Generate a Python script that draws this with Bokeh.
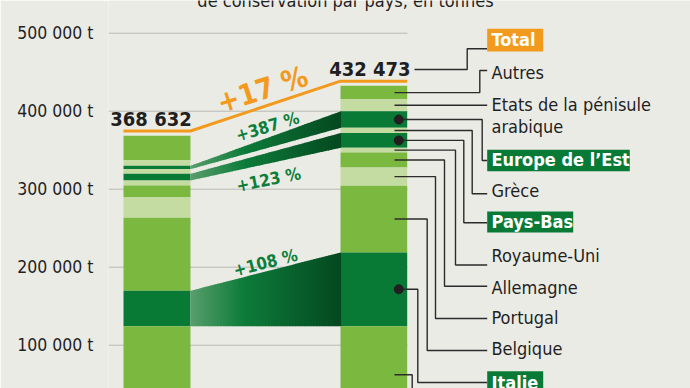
import numpy as np
from bokeh.plotting import figure
from bokeh.models import Range1d, FixedTicker
from bokeh.core.properties import value
from bokeh.embed import file_html
from bokeh.resources import INLINE

# ---------------- data ----------------
categories = ["Autres", "Etats de la pénisule arabique", "Europe de l\u2019Est", "Grèce",
              "Pays-Bas", "Royaume-Uni", "Allemagne", "Portugal", "Belgique", "Italie", "Autres pays"]
tonnes_left = [31182, 7300, 4350, 6000, 8500, 6400, 15000, 26400, 93600, 45500, 124400]
tonnes_right = [17223, 15400, 21150, 6700, 18900, 6000, 19200, 23500, 85400, 94600, 124400]
totals = [368632, 432473]
total_labels = ["368 632", "432 473"]
growth_total = "+17 %"
growth_labels = ["+387 %", "+123 %", "+108 %"]
flow_index = [2, 4, 9]
tick_values = [100000, 200000, 300000, 400000, 500000]
tick_labels = ["100 000 t", "200 000 t", "300 000 t", "400 000 t", "500 000 t"]
title_text = "de conservation par pays, en tonnes"

# ---------------- style / layout ----------------
W, H = 690, 388
FRAME_LEFT = 108
Y_TOP, Y_BOT = 541923, 44487
T_PER_PX = (Y_TOP - Y_BOT) / H
BG = "#ebebe6"
MID, LIGHT, DARK = "#7ab83f", "#c4dca2", "#087a36"
ORANGE = "#f29a1e"
GREEN_TXT = "#0b7f3a"
INK = "#1f1f1f"
FONT_NAME = "'DejaVu Sans Condensed', 'Roboto Condensed', Roboto, sans-serif"
FONT = value(FONT_NAME)
seg_colors = [MID, LIGHT, DARK, LIGHT, DARK, LIGHT, MID, LIGHT, MID, DARK, MID]


def ty(px_y):
    """pixel row -> tonnes on the y scale"""
    return Y_TOP - px_y * T_PER_PX


p = figure(width=W, height=H, output_backend="svg", toolbar_location=None,
           x_range=Range1d(FRAME_LEFT, W), y_range=Range1d(Y_BOT, Y_TOP),
           x_axis_location=None, min_border_left=FRAME_LEFT, min_border_right=0,
           min_border_top=0, min_border_bottom=0)
p.background_fill_color = BG
p.border_fill_color = BG
p.outline_line_color = None
p.xgrid.visible = False
p.ygrid.visible = False

ax = p.yaxis[0]
ax.ticker = FixedTicker(ticks=tick_values)
ax.major_label_overrides = {v: l for v, l in zip(tick_values, tick_labels)}
ax.axis_line_color = None
ax.major_tick_line_color = None
ax.minor_tick_line_color = None
ax.major_label_standoff = 9
ax.major_label_text_font = FONT_NAME
ax.major_label_text_font_size = "17.5px"
ax.major_label_text_color = INK

# grid lines
p.segment(x0=[108] * len(tick_values), x1=[407] * len(tick_values),
          y0=tick_values, y1=tick_values, line_color="#b9b9b4", line_width=1)


def bounds(vals):
    tops, bots = [], []
    run = sum(vals)
    for v in vals:
        tops.append(run)
        run -= v
        bots.append(run)
    return tops, bots


lt, lb = bounds(tonnes_left)
rt, rb = bounds(tonnes_right)
LX0, LX1 = 123, 190
RX0, RX1 = 340, 406.7

p.quad(left=LX0, right=LX1, top=lt, bottom=lb, fill_color=seg_colors, line_color=None)
p.quad(left=RX0, right=RX1, top=rt, bottom=rb, fill_color=seg_colors, line_color=None)

# flows with a simulated gradient
stops = [(0.0, (88, 158, 108)), (0.35, (14, 124, 58)), (1.0, (4, 72, 32))]


def grad(t):
    for (t0, c0), (t1, c1) in zip(stops[:-1], stops[1:]):
        if t <= t1:
            f = (t - t0) / (t1 - t0)
            c = [int(round(a + (b - a) * f)) for a, b in zip(c0, c1)]
            return "#%02x%02x%02x" % tuple(c)
    return "#%02x%02x%02x" % stops[-1][1]


N = 50
xs_f, ys_f, cs_f = [], [], []
for i in flow_index:
    for k in range(N):
        a, b = k / N, (k + 1) / N
        xa, xb = LX1 + (RX0 - LX1) * a, LX1 + (RX0 - LX1) * b
        ta, tb = lt[i] + (rt[i] - lt[i]) * a, lt[i] + (rt[i] - lt[i]) * b
        ba, bb = lb[i] + (rb[i] - lb[i]) * a, lb[i] + (rb[i] - lb[i]) * b
        xs_f.append([xa, xb + 0.6, xb + 0.6, xa])
        ys_f.append([ta, tb, bb, ba])
        cs_f.append(grad((a + b) / 2))
p.patches(xs=xs_f, ys=ys_f, fill_color=cs_f, line_color=None)

# total line
LINE_OFF = 6000
p.line(x=[LX0, LX1, RX0, RX1], y=[totals[0] + LINE_OFF, totals[0] + LINE_OFF,
                                  totals[1] + LINE_OFF, totals[1] + LINE_OFF],
       line_color=ORANGE, line_width=3)

# total labels
LBL_OFF = 22000
p.text(x=[(LX0 + LX1) / 2 - 6, (RX0 + RX1) / 2 - 4], y=[t + LBL_OFF for t in totals],
       text=total_labels, text_align="center", text_baseline="middle",
       text_font=FONT, text_font_style="bold", text_font_size="20px", text_color=INK)

# growth labels
p.text(x=[262], y=[ty(89)], text=[growth_total], angle=0.31, text_align="center",
       text_baseline="middle", text_font=FONT, text_font_style="bold",
       text_font_size="29px", text_color=ORANGE)
p.text(x=[267, 268, 265], y=[ty(126), ty(179), ty(262)], text=growth_labels,
       angle=[0.29, 0.2, 0.25], text_align="center", text_baseline="middle",
       text_font=FONT, text_font_style="bold", text_font_size="17px", text_color=GREEN_TXT)

# title (cut off at the top, as in the reference)
p.text(x=[345], y=[ty(-0.5)], text=[title_text], text_align="center",
       text_baseline="middle", text_font=FONT, text_font_size="18px", text_color=INK)

# ---------------- legend with leader lines ----------------
r_mid = [(t + b) / 2 for t, b in zip(rt, rb)]
dot_cats = {2, 4, 9}
leader_vx = [479.3, None, 481.7, 471.7, 463.3, 455, 444, 435, 426.7, 417.3, 411.7]
leader_y = [70, 105, 160, 193.3, 222.3, 264.5, 285.7, 318, 350, 382, 420]
END_X = 486.7
lx, ly = [], []
for i in range(len(categories)):
    x0 = 398.3 if i in dot_cats else 394
    if leader_vx[i] is None:
        lx.append([x0, END_X])
        ly.append([r_mid[i], r_mid[i]])
    else:
        vx = leader_vx[i]
        lx.append([x0, vx, vx, END_X])
        ly.append([r_mid[i], r_mid[i], ty(leader_y[i]), ty(leader_y[i])])
# total leader
lx.append([414, 466.7, 466.7, END_X])
ly.append([ty(69), ty(69), ty(48.3), ty(48.3)])
p.multi_line(xs=lx, ys=ly, line_color="#2b2b2b", line_width=1.4)

p.scatter(x=[398.3] * 3, y=[r_mid[i] for i in sorted(dot_cats)], size=9,
          fill_color="#231f20", line_color="#231f20")

# highlighted label boxes
box_l = [486.7, 486.7, 486.7, 486.7]
box_r = [542.7, 629.3, 572.7, 542.7]
box_t = [28.3, 149.3, 211, 370.7]
box_b = [51, 170.7, 232, 394]
box_c = [ORANGE, DARK, DARK, DARK]
p.quad(left=box_l, right=box_r, top=[ty(v) for v in box_t], bottom=[ty(v) for v in box_b],
       fill_color=box_c, line_color=None)

boxed_text = ["Total", categories[2], categories[4], categories[9]]
p.text(x=[491] * 4, y=[ty((t + b) / 2 - 0.8) for t, b in zip(box_t, box_b)], text=boxed_text,
       text_align="left", text_baseline="middle", text_font=FONT, text_font_style="bold",
       text_font_size="18px", text_color="white")

plain_idx = [0, 3, 5, 6, 7, 8]
plain_y = [71.5, 190, 255, 286.5, 317, 348]
p.text(x=[491] * len(plain_idx), y=[ty(v) for v in plain_y],
       text=[categories[i] for i in plain_idx], text_align="left", text_baseline="middle",
       text_font=FONT, text_font_size="18px", text_color=INK)
p.text(x=[491] * 2, y=[ty(103.5), ty(126)], text=["Etats de la pénisule", "arabique"],
       text_align="left", text_baseline="middle", text_font=FONT, text_font_size="18px",
       text_color=INK)

open("out.html", "w").write(file_html(p, INLINE))
